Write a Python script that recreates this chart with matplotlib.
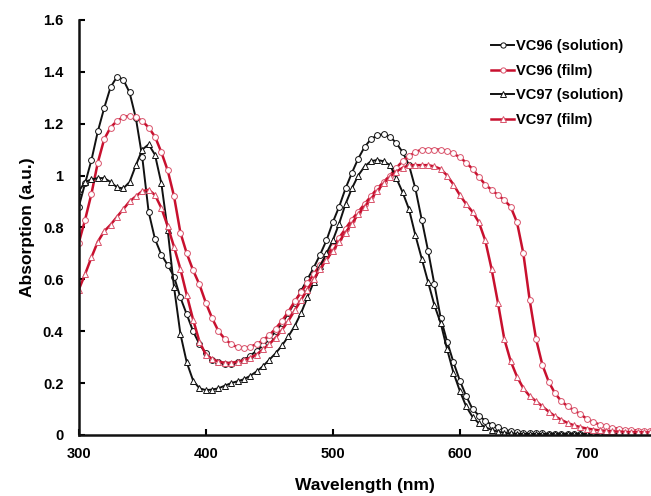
import numpy as np
import matplotlib
matplotlib.use("Agg")
import matplotlib.pyplot as plt

# -------------------------
# datos
# -------------------------
wavelength = list(range(300, 755, 5))

vc96_sol = [0.88, 0.97, 1.06, 1.17, 1.26, 1.34, 1.38, 1.37, 1.32, 1.22, 1.07, 0.86,
            0.755, 0.695, 0.655, 0.61, 0.53, 0.465, 0.40, 0.35, 0.315, 0.29, 0.28, 0.275,
            0.275, 0.28, 0.29, 0.305, 0.325, 0.345, 0.37, 0.40, 0.43, 0.47, 0.51, 0.555,
            0.60, 0.645, 0.695, 0.75, 0.82, 0.88, 0.95, 1.01, 1.065, 1.11, 1.14, 1.155,
            1.16, 1.15, 1.125, 1.09, 1.04, 0.95, 0.83, 0.71, 0.58, 0.45, 0.36, 0.28,
            0.21, 0.15, 0.10, 0.075, 0.055, 0.04, 0.03, 0.02, 0.015, 0.01, 0.008, 0.007,
            0.006, 0.006, 0.005, 0.005, 0.005, 0.005, 0.005, 0.005, 0.005, 0.005, 0.005, 0.005,
            0.005, 0.005, 0.005, 0.005, 0.005, 0.005, 0.005]

vc96_film = [0.74, 0.83, 0.93, 1.05, 1.14, 1.185, 1.21, 1.225, 1.23, 1.225, 1.21, 1.185,
             1.15, 1.09, 1.02, 0.92, 0.78, 0.70, 0.635, 0.58, 0.51, 0.45, 0.40, 0.37,
             0.35, 0.338, 0.335, 0.34, 0.35, 0.365, 0.385, 0.41, 0.44, 0.475, 0.515, 0.55,
             0.585, 0.62, 0.655, 0.69, 0.725, 0.76, 0.795, 0.83, 0.86, 0.89, 0.92, 0.95,
             0.975, 1.00, 1.03, 1.055, 1.075, 1.09, 1.10, 1.10, 1.10, 1.10, 1.095, 1.085,
             1.07, 1.05, 1.025, 0.995, 0.965, 0.945, 0.925, 0.905, 0.88, 0.82, 0.70, 0.52,
             0.37, 0.27, 0.205, 0.16, 0.13, 0.11, 0.095, 0.08, 0.062, 0.05, 0.04, 0.033,
             0.028, 0.024, 0.021, 0.019, 0.017, 0.016, 0.015]

vc97_sol = [0.94, 0.975, 0.985, 0.99, 0.99, 0.975, 0.955, 0.95, 0.975, 1.04, 1.10, 1.12,
            1.08, 0.97, 0.79, 0.57, 0.39, 0.28, 0.21, 0.18, 0.173, 0.175, 0.18, 0.19,
            0.20, 0.207, 0.215, 0.228, 0.245, 0.265, 0.29, 0.315, 0.345, 0.38, 0.42, 0.47,
            0.53, 0.59, 0.65, 0.70, 0.75, 0.815, 0.89, 0.95, 1.00, 1.035, 1.055, 1.06,
            1.055, 1.04, 0.99, 0.935, 0.87, 0.77, 0.68, 0.59, 0.50, 0.43, 0.33, 0.24,
            0.17, 0.11, 0.07, 0.045, 0.03, 0.02, 0.013, 0.008, 0.006, 0.005, 0.004, 0.004,
            0.004, 0.004, 0.004, 0.004, 0.004, 0.004, 0.004, 0.004, 0.004, 0.004, 0.004, 0.004,
            0.004, 0.004, 0.004, 0.004, 0.004, 0.004, 0.004]

vc97_film = [0.56, 0.62, 0.685, 0.745, 0.785, 0.81, 0.84, 0.87, 0.90, 0.92, 0.94, 0.945,
             0.925, 0.875, 0.805, 0.725, 0.64, 0.54, 0.445, 0.36, 0.31, 0.293, 0.283, 0.278,
             0.278, 0.282, 0.288, 0.298, 0.31, 0.33, 0.35, 0.375, 0.405, 0.44, 0.48, 0.52,
             0.56, 0.60, 0.64, 0.675, 0.71, 0.745, 0.78, 0.815, 0.85, 0.88, 0.91, 0.94,
             0.97, 0.995, 1.015, 1.03, 1.04, 1.04, 1.04, 1.04, 1.035, 1.025, 1.00, 0.965,
             0.925, 0.89, 0.86, 0.82, 0.75, 0.64, 0.51, 0.37, 0.285, 0.225, 0.18, 0.15,
             0.13, 0.11, 0.09, 0.072, 0.058, 0.046, 0.037, 0.03, 0.025, 0.021, 0.018, 0.016,
             0.014, 0.013, 0.012, 0.011, 0.011, 0.010, 0.010]

labels = ["VC96 (solution)", "VC96 (film)", "VC97 (solution)", "VC97 (film)"]
x_ticks = [300, 400, 500, 600, 700]
y_ticks = [0, 0.2, 0.4, 0.6, 0.8, 1, 1.2, 1.4, 1.6]

# -------------------------
# estilo
# -------------------------
plt.rcParams["font.family"] = ["Liberation Sans", "DejaVu Sans"]
plt.rcParams["font.weight"] = "bold"

BLACK = "#111111"
RED = "#c8102e"
RED_MK = "#d9536b"

fig = plt.figure(figsize=(6.51, 4.96), dpi=100)
ax = fig.add_axes([0.121, 0.123, 0.878, 0.837])

series = [
    (vc96_sol, BLACK, BLACK, "o", 1.4),
    (vc96_film, RED, RED_MK, "o", 1.8),
    (vc97_sol, BLACK, BLACK, "^", 1.4),
    (vc97_film, RED, RED_MK, "^", 1.8),
]
for (vals, lc, mc, mk, lw), lab in zip(series, labels):
    ax.plot(wavelength, vals, color=lc, lw=lw, marker=mk, markersize=4.2,
            markerfacecolor="white", markeredgecolor=mc, markeredgewidth=0.7,
            label=lab)

ax.set_xlim(300, 750)
ax.set_ylim(0, 1.6)
ax.set_xticks(x_ticks)
ax.set_yticks(y_ticks)
ax.set_yticklabels(["0", "0.2", "0.4", "0.6", "0.8", "1", "1.2", "1.4", "1.6"])

for s in ["top", "right"]:
    ax.spines[s].set_visible(False)
for s in ["left", "bottom"]:
    ax.spines[s].set_linewidth(1.8)
    ax.spines[s].set_color(BLACK)

ax.tick_params(direction="in", length=4, width=1.5, labelsize=10.5)
ax.tick_params(axis="y", pad=11)
ax.tick_params(axis="x", pad=9)
for t in ax.get_xticklabels() + ax.get_yticklabels():
    t.set_fontweight("bold")

ax.set_xlabel("Wavelength (nm)", fontsize=12.5, fontweight="bold", labelpad=12)
ax.set_ylabel("Absorption (a.u.)", fontsize=12.5, fontweight="bold", labelpad=6)

leg = ax.legend(loc="upper right", bbox_to_anchor=(0.975, 0.985), frameon=False,
                fontsize=10.5, handlelength=1.6, handletextpad=0.1,
                labelspacing=0.72, markerscale=0.9)
for t in leg.get_texts():
    t.set_fontweight("bold")

fig.savefig("out.png", dpi=100)
